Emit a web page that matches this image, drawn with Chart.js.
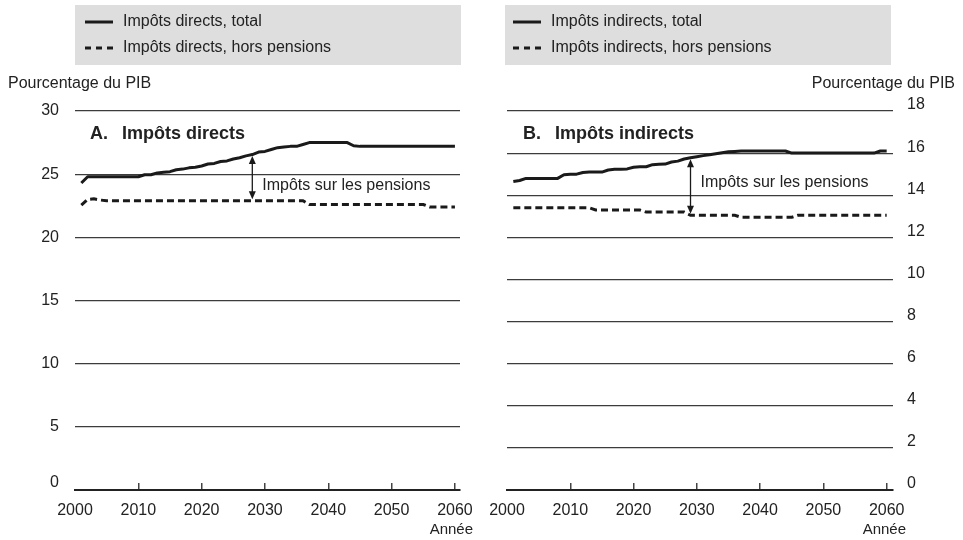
<!DOCTYPE html>
<html>
<head>
<meta charset="utf-8">
<script src="https://cdn.jsdelivr.net/npm/chart.js@4.4.1/dist/chart.umd.min.js"></script>
<style>
  html, body { margin: 0; padding: 0; background: #fff; }
  #wrap { position: relative; width: 963px; height: 540px; overflow: hidden; }
  canvas { position: absolute; top: 0; }
  #panelA { left: 0; }
  #panelB { left: 465px; }
</style>
</head>
<body>
<div id="wrap">
  <canvas id="panelA" width="500" height="540"></canvas>
  <canvas id="panelB" width="498" height="540"></canvas>
</div>
<script>
// Years of the projection
const years = [
  2001, 2002, 2003, 2004, 2005, 2006, 2007, 2008, 2009, 2010,
  2011, 2012, 2013, 2014, 2015, 2016, 2017, 2018, 2019, 2020,
  2021, 2022, 2023, 2024, 2025, 2026, 2027, 2028, 2029, 2030,
  2031, 2032, 2033, 2034, 2035, 2036, 2037, 2038, 2039, 2040,
  2041, 2042, 2043, 2044, 2045, 2046, 2047, 2048, 2049, 2050,
  2051, 2052, 2053, 2054, 2055, 2056, 2057, 2058, 2059, 2060
];

// Panel A: direct taxes, % of GDP
const directTotal = [
  24.3, 24.8, 24.8, 24.8, 24.8, 24.8, 24.8, 24.8, 24.8, 24.8,
  24.95, 24.95, 25.1, 25.15, 25.2, 25.35, 25.4, 25.5, 25.55, 25.65,
  25.8, 25.85, 26.0, 26.05, 26.2, 26.3, 26.45, 26.55, 26.75, 26.8,
  26.95, 27.1, 27.15, 27.2, 27.2, 27.35, 27.5, 27.5, 27.5, 27.5,
  27.5, 27.5, 27.5, 27.25, 27.2, 27.2, 27.2, 27.2, 27.2, 27.2,
  27.2, 27.2, 27.2, 27.2, 27.2, 27.2, 27.2, 27.2, 27.2, 27.2
];
const directExPensions = [
  22.55, 23.0, 23.05, 22.95, 22.9, 22.9, 22.9, 22.9, 22.9, 22.9,
  22.9, 22.9, 22.9, 22.9, 22.9, 22.9, 22.9, 22.9, 22.9, 22.9,
  22.9, 22.9, 22.9, 22.9, 22.9, 22.9, 22.9, 22.9, 22.9, 22.9,
  22.9, 22.9, 22.9, 22.9, 22.9, 22.9, 22.6, 22.6, 22.6, 22.6,
  22.6, 22.6, 22.6, 22.6, 22.6, 22.6, 22.6, 22.6, 22.6, 22.6,
  22.6, 22.6, 22.6, 22.6, 22.6, 22.4, 22.4, 22.4, 22.4, 22.4
];

// Panel B: indirect taxes, % of GDP
const indirectTotal = [
  14.65, 14.7, 14.8, 14.8, 14.8, 14.8, 14.8, 14.8, 14.97, 15.0,
  15.0, 15.08, 15.1, 15.1, 15.1, 15.2, 15.23, 15.23, 15.25, 15.33,
  15.35, 15.35, 15.45, 15.47, 15.48, 15.58, 15.62, 15.72, 15.78, 15.83,
  15.88, 15.92, 15.97, 16.02, 16.06, 16.08, 16.1, 16.1, 16.1, 16.1,
  16.1, 16.1, 16.1, 16.1, 16.0, 16.0, 16.0, 16.0, 16.0, 16.0,
  16.0, 16.0, 16.0, 16.0, 16.0, 16.0, 16.0, 16.0, 16.1, 16.1
];
const indirectExPensions = [
  13.4, 13.4, 13.4, 13.4, 13.4, 13.4, 13.4, 13.4, 13.4, 13.4,
  13.4, 13.4, 13.4, 13.3, 13.3, 13.3, 13.3, 13.3, 13.3, 13.3,
  13.3, 13.2, 13.2, 13.2, 13.2, 13.2, 13.2, 13.2, 13.05, 13.05,
  13.05, 13.05, 13.05, 13.05, 13.05, 13.05, 12.95, 12.95, 12.95, 12.95,
  12.95, 12.95, 12.95, 12.95, 12.95, 13.05, 13.05, 13.05, 13.05, 13.05,
  13.05, 13.05, 13.05, 13.05, 13.05, 13.05, 13.05, 13.05, 13.05, 13.05
];

// Axis ticks
const yearTicks = [2000, 2010, 2020, 2030, 2040, 2050, 2060];
const directTicks = [0, 5, 10, 15, 20, 25, 30];
const indirectTicks = [0, 2, 4, 6, 8, 10, 12, 14, 16, 18];

// Year at which the pension-tax gap arrow is drawn in each panel
const arrowYears = [2028, 2029];

const FONT = "'Liberation Sans', Arial, Helvetica, sans-serif";
const INK = '#1a1a1a';
const TEXT = '#222';
const GRID = '#3c3c3c';

function seriesPoints(values) {
  return years.map((yr, i) => ({ x: yr, y: values[i] }));
}

function arrow(ctx, x, yTop, yBot) {
  const head = 8, half = 3.5;
  ctx.strokeStyle = INK;
  ctx.fillStyle = INK;
  ctx.lineWidth = 1.3;
  ctx.beginPath();
  ctx.moveTo(x, yTop + head - 1);
  ctx.lineTo(x, yBot - head + 1);
  ctx.stroke();
  ctx.beginPath();
  ctx.moveTo(x, yTop); ctx.lineTo(x - half, yTop + head); ctx.lineTo(x + half, yTop + head);
  ctx.closePath(); ctx.fill();
  ctx.beginPath();
  ctx.moveTo(x, yBot); ctx.lineTo(x - half, yBot - head); ctx.lineTo(x + half, yBot - head);
  ctx.closePath(); ctx.fill();
}

// Legend box, titles, axis captions and the pension annotation
const panelDecor = {
  id: 'panelDecor',
  afterDraw(chart, args, o) {
    const ctx = chart.ctx;
    ctx.save();

    // legend
    ctx.fillStyle = '#dedede';
    ctx.fillRect(o.box[0], o.box[1], o.box[2], o.box[3]);
    ctx.font = '16px ' + FONT;
    ctx.textBaseline = 'middle';
    ctx.textAlign = 'left';
    chart.data.datasets.forEach((ds, i) => {
      const y = o.itemY[i];
      ctx.beginPath();
      ctx.setLineDash(ds.borderDash && ds.borderDash.length ? [6, 5] : []);
      ctx.lineWidth = 3;
      ctx.strokeStyle = INK;
      ctx.moveTo(o.sampleX, y);
      ctx.lineTo(o.sampleX + 28, y);
      ctx.stroke();
      ctx.setLineDash([]);
      ctx.fillStyle = TEXT;
      ctx.fillText(ds.label, o.sampleX + 38, y);
    });

    // unit caption
    ctx.fillStyle = TEXT;
    ctx.font = '16px ' + FONT;
    ctx.textAlign = o.unitAlign;
    ctx.fillText('Pourcentage du PIB', o.unitX, 84);

    // axis name
    ctx.font = '15px ' + FONT;
    ctx.textAlign = 'right';
    ctx.fillText('Année', o.yearCaptionX, 530);

    // panel title
    ctx.font = 'bold 18px ' + FONT;
    ctx.textAlign = 'left';
    ctx.fillText(o.letter, o.titleX, 134);
    ctx.fillText(o.title, o.titleX + 32, 134);

    // pension gap arrow and label
    const xs = chart.scales.x, ys = chart.scales.y;
    const idx = years.indexOf(o.arrowYear);
    const top = chart.data.datasets[0].data[idx].y;
    const bot = chart.data.datasets[1].data[idx].y;
    const ax = xs.getPixelForValue(o.arrowYear);
    arrow(ctx, ax, ys.getPixelForValue(top) + 1.5, ys.getPixelForValue(bot) - 1.5);
    ctx.font = '16px ' + FONT;
    ctx.fillStyle = TEXT;
    ctx.textAlign = 'left';
    ctx.fillText('Impôts sur les pensions', ax + 10, o.noteY);

    ctx.restore();
  }
};

function buildPanel(canvasId, cfg) {
  return new Chart(document.getElementById(canvasId), {
    type: 'line',
    data: {
      datasets: [
        {
          label: cfg.labels[0],
          data: seriesPoints(cfg.total),
          borderColor: INK, borderWidth: 3, pointRadius: 0, tension: 0,
          borderJoinStyle: 'round', fill: false
        },
        {
          label: cfg.labels[1],
          data: seriesPoints(cfg.exPensions),
          borderColor: INK, borderWidth: 3, pointRadius: 0, tension: 0,
          borderDash: [7, 4], fill: false
        }
      ]
    },
    options: {
      responsive: false,
      animation: false,
      layout: { padding: cfg.padding },
      plugins: {
        legend: { display: false },
        tooltip: { enabled: false },
        panelDecor: cfg.decor
      },
      scales: {
        x: {
          type: 'linear',
          min: 2000,
          max: cfg.xMax,
          afterBuildTicks: s => { s.ticks = yearTicks.map(v => ({ value: v })); },
          afterFit: s => { s.height = 50; },
          grid: {
            drawOnChartArea: false,
            drawTicks: true,
            tickLength: -7,
            lineWidth: 1.5,
            color: c => (c.tick && c.tick.value === 2000) ? 'rgba(0,0,0,0)' : '#444'
          },
          border: { display: true, color: '#222', width: 2 },
          ticks: {
            padding: 18,
            color: TEXT,
            font: { family: FONT, size: 16 },
            maxRotation: 0,
            autoSkip: false,
            callback: v => String(v)
          }
        },
        y: {
          position: cfg.yPosition,
          min: 0,
          max: cfg.yTicks[cfg.yTicks.length - 1],
          afterBuildTicks: s => { s.ticks = cfg.yTicks.map(v => ({ value: v })); },
          afterFit: s => { s.width = cfg.yWidth; },
          border: { display: false },
          grid: {
            drawTicks: false,
            lineWidth: 1.2,
            color: c => (c.tick && c.tick.value === 0) ? 'rgba(0,0,0,0)' : GRID
          },
          ticks: {
            padding: cfg.yPad,
            labelOffset: cfg.yLabelOffset,
            color: TEXT,
            font: cfg.yFont,
            callback: cfg.yLabel
          }
        }
      }
    },
    plugins: [panelDecor]
  });
}

buildPanel('panelA', {
  labels: ['Impôts directs, total', 'Impôts directs, hors pensions'],
  total: directTotal,
  exPensions: directExPensions,
  xMax: 2060.8,
  yTicks: directTicks,
  yPosition: 'left',
  yWidth: 75,
  yPad: 16,
  yLabelOffset: 0,
  // the zero label sits a little above the axis line
  yFont: c => ({ family: FONT, size: 16, lineHeight: (c.tick && c.tick.value === 0) ? 0.9 : 1.2 }),
  yLabel: v => (v === 0 ? ['0', ''] : String(v)),
  padding: { top: 111, right: 40, bottom: 0, left: 0 },
  decor: {
    box: [75, 5, 386, 60],
    itemY: [22, 48],
    sampleX: 85,
    unitX: 8, unitAlign: 'left',
    yearCaptionX: 473,
    letter: 'A.', title: 'Impôts directs', titleX: 90,
    arrowYear: arrowYears[0], noteY: 186
  }
});

buildPanel('panelB', {
  labels: ['Impôts indirects, total', 'Impôts indirects, hors pensions'],
  total: indirectTotal,
  exPensions: indirectExPensions,
  xMax: 2061,
  yTicks: indirectTicks,
  yPosition: 'right',
  yWidth: 70,
  yPad: 14,
  yLabelOffset: -6,
  yFont: { family: FONT, size: 16 },
  yLabel: v => String(v),
  padding: { top: 111, right: 0, bottom: 0, left: 42 },
  decor: {
    box: [40, 5, 386, 60],
    itemY: [22, 48],
    sampleX: 48,
    unitX: 490, unitAlign: 'right',
    yearCaptionX: 441,
    letter: 'B.', title: 'Impôts indirects', titleX: 58,
    arrowYear: arrowYears[1], noteY: 183
  }
});
</script>
</body>
</html>
